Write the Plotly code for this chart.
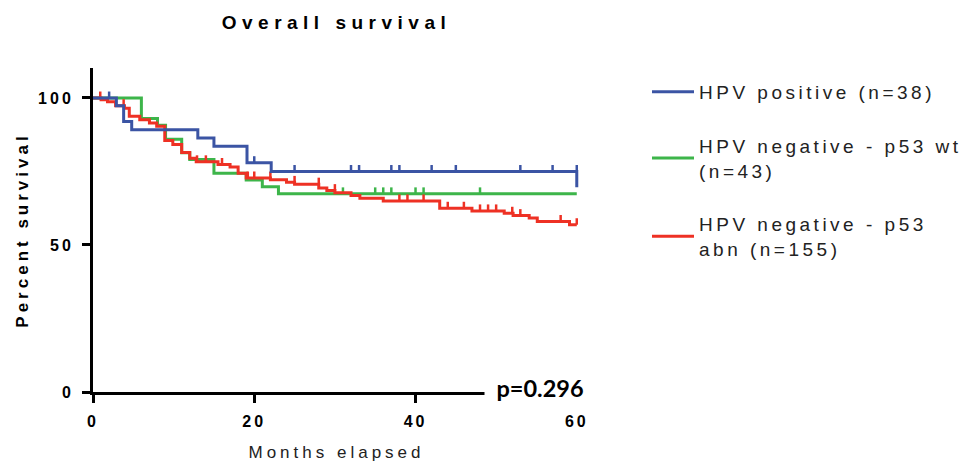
import numpy as np
import plotly.graph_objects as go

# ---------------- data ----------------
series_names = ["HPV positive (n=38)", "HPV negative - p53 wt<br>(n=43)", "HPV negative - p53<br>abn (n=155)"]
series_colors = ["#3B54A4", "#3DB54A", "#EE3124"]

blue_t = [0, 2.9, 3.8, 4.8, 13.0, 15.0, 19.1, 22.1, 60.0]
blue_s = [100, 97.4, 92.0, 89.2, 86.4, 83.6, 78.0, 75.0, 69.6]
blue_c = [2.0, 20.0, 25.0, 32.0, 33.0, 37.0, 38.0, 42.0, 45.0, 53.0, 57.0, 60.0]

green_t = [0, 6, 8, 9, 11, 12, 15, 19, 21, 23, 60]
green_s = [100, 93.0, 90.7, 86.0, 81.4, 79.1, 74.4, 72.1, 69.8, 67.4, 67.4]
green_c = [31, 35, 36, 37, 40, 41, 48]

red_t = [0, 1.0, 1.8, 2.8, 3.9, 4.5, 5.8, 7.0, 7.9, 8.9, 9.9, 11.0, 12.0, 12.8, 15.5, 17.0,
         18.0, 19.0, 22.0, 24.0, 25.0, 28.0, 29.0, 30.0, 32.0, 33.1, 36.0, 43.0, 47.0, 51.0,
         52.1, 54.1, 55.1, 59.1, 60.0]
red_s = [100, 99.4, 98.7, 97.4, 96.5, 93.8, 92.6, 91.5, 90.4, 85.5, 84.2, 81.5, 79.5, 78.3, 77.4,
         76.5, 74.4, 72.8, 72.2, 71.3, 70.7, 69.4, 68.5, 67.8, 66.8, 65.9, 65.0, 62.5, 61.6, 60.8,
         60.0, 59.2, 58.0, 56.9, 56.9]
red_c = [0.9, 3.8, 12.9, 14.0, 16.0, 19.2, 20.0, 22.0, 25.0, 28.0, 30.0, 38.0, 39.0, 41.0, 44.0,
         46.0, 48.0, 49.0, 50.0, 52.0, 53.0, 58.0, 60.0]

x_ticks = [0, 20, 40, 60]
y_ticks = [0, 50, 100]
p_text = "p=0.296"

TICK_H = 2.2  # censor tick height (percent units)

def surv_at(times, surv, c):
    t = np.asarray(times)
    s = np.asarray(surv)
    idx = np.searchsorted(t, np.asarray(c), side="left") - 1
    return s[np.clip(idx, 0, len(s) - 1)]

groups = [
    (blue_t, blue_s, blue_c),
    (green_t, green_s, green_c),
    (red_t, red_s, red_c),
]

fig = go.Figure()
draw_order = [1, 2, 0]  # green, red, blue on top
for i in draw_order:
    t, s, c = groups[i]
    col = series_colors[i]
    fig.add_trace(go.Scatter(
        x=t, y=s, mode="lines", line=dict(color=col, width=3, shape="hv"),
        name=series_names[i], legendgroup=f"g{i}", legendrank=i + 1,
        hoverinfo="skip"))
    fig.add_trace(go.Scatter(
        x=c, y=surv_at(t, s, c), mode="markers",
        marker=dict(size=0.1, color=col),
        error_y=dict(type="constant", value=TICK_H, valueminus=0, symmetric=False,
                     width=0, thickness=2.5, color=col),
        showlegend=False, legendgroup=f"g{i}", hoverinfo="skip"))

FONT = "Liberation Sans, Arial, sans-serif"

fig.add_annotation(
    x=55.5, y=1.3, xref="x", yref="y", text=p_text, showarrow=False,
    font=dict(family="Lato, Open Sans, sans-serif", size=23.5, color="black", weight="bold"),
    bgcolor="white", width=104, height=26, borderpad=3, xanchor="center", yanchor="middle")

fig.update_layout(
    template="none",
    width=970, height=466,
    margin=dict(l=93, r=390, t=68, b=74, autoexpand=False),
    paper_bgcolor="white", plot_bgcolor="white",
    title=dict(text="Overall survival", x=0.5, xref="paper", xanchor="center",
               y=1 - 22 / 466, yref="container", yanchor="middle",
               font=dict(family=FONT, size=19, color="black", weight="bold")),
    legend=dict(xref="container", yref="container", x=647 / 970, y=1 - 73 / 466,
                xanchor="left", yanchor="top", traceorder="grouped", tracegroupgap=26,
                itemwidth=42, font=dict(family=FONT, size=19, color="#222222"),
                bgcolor="rgba(0,0,0,0)", borderwidth=0),
    showlegend=True,
    xaxis=dict(range=[0, 60.4], tickvals=x_ticks, showline=True, linewidth=3, linecolor="black",
               ticks="outside", ticklen=8, tickwidth=3, tickcolor="black", showgrid=False,
               zeroline=False, ticklabelstandoff=5, automargin=False,
               tickfont=dict(family=FONT, size=16, color="black", weight="bold"),
               title=dict(text="Months elapsed", standoff=17,
                          font=dict(family=FONT, size=17, color="#222222"))),
    yaxis=dict(range=[0, 110.2], tickvals=y_ticks, showline=True, linewidth=3, linecolor="black",
               ticks="outside", ticklen=8, tickwidth=3, tickcolor="black", showgrid=False,
               zeroline=False, ticklabelstandoff=5, automargin=False,
               tickfont=dict(family=FONT, size=16, color="black", weight="bold"),
               title=dict(text="Percent survival", standoff=15,
                          font=dict(family=FONT, size=17, color="black", weight="bold"))),
)

post = """
document.body.style.margin = '0';
document.body.style.overflow = 'hidden';
var gd = document.getElementById('{plot_id}');
function ls(){
  gd.querySelectorAll('.gtitle').forEach(function(e){e.style.letterSpacing='5.5px';});
  gd.querySelectorAll('.legendtext').forEach(function(e){e.style.letterSpacing='3.5px';});
  gd.querySelectorAll('.xtitle,.ytitle').forEach(function(e){e.style.letterSpacing='4px';});
  gd.querySelectorAll('.xtick text,.ytick text').forEach(function(e){e.style.letterSpacing='3px';});
  gd.querySelectorAll('.legend .scrollbox, .legend [clip-path]').forEach(function(e){e.removeAttribute('clip-path');});
  gd.querySelectorAll('.legend').forEach(function(e){e.removeAttribute('clip-path');});
}
ls();
gd.on('plotly_afterplot', ls);
"""

fig.write_html("out.html", post_script=post, config={"displayModeBar": False})
